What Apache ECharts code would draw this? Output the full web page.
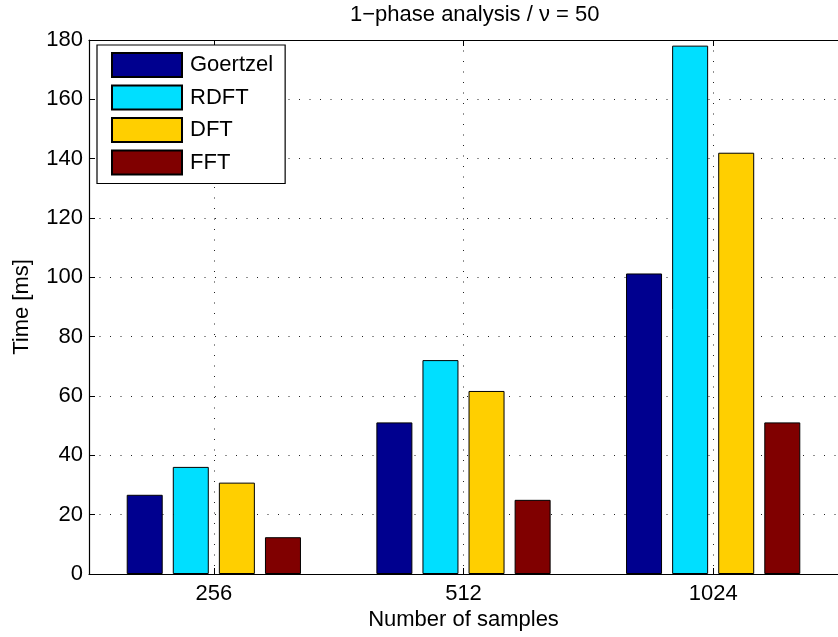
<!DOCTYPE html>
<html>
<head>
<meta charset="utf-8">
<script src="https://cdn.jsdelivr.net/npm/echarts@6/dist/echarts.min.js"></script>
<style>
html,body{margin:0;padding:0;background:#fff;}
#main{width:838px;height:637px;}
</style>
</head>
<body>
<div id="main"></div>
<script>
const categories = ['256', '512', '1024'];
const seriesNames = ['Goertzel', 'RDFT', 'DFT', 'FFT'];
const goertzel = [26.7, 51.1, 101.3];
const rdft = [36.1, 72.1, 178.1];
const dft = [30.8, 61.7, 142.0];
const fft = [12.4, 25.0, 51.1];
const yTicks = [0, 20, 40, 60, 80, 100, 120, 140, 160, 180];
const colors = ['#00008F', '#00DFFF', '#FFCF00', '#800000'];

const FONT = 'Liberation Sans, Arial, Helvetica, sans-serif';
const FS = 22;
const values = [goertzel, rdft, dft, fft];
const dotted = { color: '#222', width: 1, type: [1, 9.5] };

// top helper axis: band edges and centres, so that odd indices fall on category centres
const topAxisData = [''];
categories.forEach(c => { topAxisData.push(c); topAxisData.push(''); });
const onCentre = (idx) => idx % 2 === 1;

const chart = echarts.init(document.getElementById('main'), null, { renderer: 'canvas' });

const series = values.map((v, i) => ({
  name: seriesNames[i],
  type: 'bar',
  xAxisIndex: 0,
  yAxisIndex: 0,
  data: v,
  barWidth: 36,
  barGap: '28%',
  itemStyle: { color: colors[i], borderColor: '#000', borderWidth: 1 },
  emphasis: { disabled: true },
  z: 3
}));

chart.setOption({
  animation: false,
  backgroundColor: '#fff',
  textStyle: { fontFamily: FONT },
  title: {
    text: '1\u2212phase analysis / \u03bd = 50',
    left: 350,
    top: 4,
    padding: 0,
    textStyle: { fontFamily: FONT, fontSize: FS, fontWeight: 'normal', color: '#000' }
  },
  grid: { left: 89, right: -8, top: 40, bottom: 63, containLabel: false },
  legend: {
    orient: 'vertical',
    left: 97,
    top: 45,
    padding: [7, 12, 8, 14],
    itemWidth: 70,
    itemHeight: 24,
    itemGap: 6.5,
    borderColor: '#000',
    borderWidth: 1.2,
    backgroundColor: '#fff',
    icon: 'rect',
    selectedMode: false,
    textStyle: { fontFamily: FONT, fontSize: FS, color: '#000', padding: [0, 0, 0, 3] },
    data: seriesNames
  },
  xAxis: [
    {
      type: 'category',
      data: categories,
      position: 'bottom',
      name: 'Number of samples',
      nameLocation: 'middle',
      nameGap: 35,
      nameMoveOverlap: false,
      nameTextStyle: { fontFamily: FONT, fontSize: FS, color: '#000' },
      axisLine: { show: true, lineStyle: { color: '#000', width: 1.2 } },
      axisTick: { show: true, inside: true, alignWithLabel: true, length: 6, lineStyle: { color: '#000' } },
      axisLabel: { fontFamily: FONT, fontSize: FS, color: '#000', margin: 9 },
      splitLine: { show: false }
    },
    {
      type: 'category',
      data: topAxisData,
      boundaryGap: false,
      position: 'top',
      axisLine: { show: true, lineStyle: { color: '#000', width: 1.2 } },
      axisTick: { show: true, inside: true, interval: onCentre, length: 6, lineStyle: { color: '#000' } },
      axisLabel: { show: false },
      splitLine: { show: true, interval: onCentre, lineStyle: dotted }
    }
  ],
  yAxis: [
    {
      type: 'value',
      min: yTicks[0],
      max: yTicks[yTicks.length - 1],
      interval: yTicks[1] - yTicks[0],
      name: 'Time [ms]',
      nameLocation: 'middle',
      nameGap: 56,
      nameMoveOverlap: false,
      nameTextStyle: { fontFamily: FONT, fontSize: FS, color: '#000' },
      axisLine: { show: true, lineStyle: { color: '#000', width: 1.2 } },
      axisTick: { show: true, inside: true, length: 6, lineStyle: { color: '#000' } },
      axisLabel: { fontFamily: FONT, fontSize: FS, color: '#000', margin: 6 },
      splitLine: { show: true, lineStyle: dotted }
    }
  ],
  series: series
});
</script>
</body>
</html>
